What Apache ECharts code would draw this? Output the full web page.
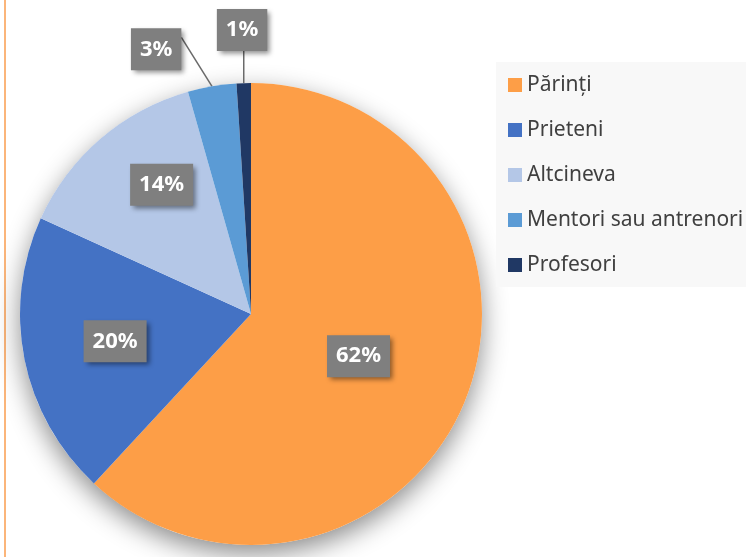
<!DOCTYPE html>
<html>
<head>
<meta charset="utf-8">
<script src="https://cdn.jsdelivr.net/npm/echarts@6/dist/echarts.min.js"></script>
<style>html,body{margin:0;padding:0;background:#fff;}#c{width:746px;height:557px;}</style>
</head>
<body>
<div id="c"></div>
<script>
const categories = ['Părinți', 'Prieteni', 'Altcineva', 'Mentori sau antrenori', 'Profesori'];
const values = [61.9, 19.9, 13.8, 3.4, 1.0];
const colors = ['#fd9e47', '#4472c4', '#b4c7e7', '#5b9bd5', '#203864'];
const labelRadius = [0.5, 0.6, 0.68, 1.217, 1.23];
const labelTurn = [0, 0, 6, -10, 0];

const CX = 251, CY = 314, R = 231;
const total = values.reduce((a, b) => a + b, 0);
function midAngle(i) {
  let s = 0;
  for (let k = 0; k < i; k++) s += values[k];
  return ((s + values[i] / 2) / total) * 360;
}
function pt(deg, r) {
  const a = deg * Math.PI / 180;
  return [CX + r * Math.sin(a), CY - r * Math.cos(a)];
}

const chart = echarts.init(document.getElementById('c'));
const labelBase = {
  formatter: p => Math.round(p.value) + '%',
  color: '#fff', fontWeight: 'bold', fontSize: 22, lineHeight: 22,
  fontFamily: 'Noto Sans',
  backgroundColor: '#7f7f7f', padding: [10, 9],
  shadowColor: 'rgba(0,0,0,0.45)', shadowBlur: 5, shadowOffsetX: 3, shadowOffsetY: 3
};

chart.setOption({
  animation: false,
  backgroundColor: '#fff',
  graphic: [{ type: 'rect', shape: { x: 4, y: 0, width: 2, height: 557 }, style: { fill: '#fbb57a' }, silent: true }],
  legend: {
    data: categories,
    orient: 'vertical',
    left: 496, top: 62,
    padding: [12.5, 12, 11.5, 12],
    backgroundColor: '#f8f8f8',
    itemWidth: 14, itemHeight: 14, itemGap: 24,
    icon: 'rect',
    textStyle: { fontFamily: 'Noto Sans', fontSize: 21, lineHeight: 21, color: '#404040' }
  },
  series: [
    {
      type: 'pie', silent: true, center: [CX, CY], radius: R, z: 1,
      label: { show: false }, labelLine: { show: false },
      data: [{ value: 1, name: '_bg', itemStyle: { color: '#fff', shadowBlur: 26, shadowColor: 'rgba(0,0,0,0.45)', shadowOffsetY: 9 } }]
    },
    {
      type: 'pie', center: [CX, CY], radius: R, startAngle: 90, clockwise: true, z: 2,
      emphasis: { disabled: true },
      data: categories.map((n, i) => ({
        name: n, value: values[i],
        itemStyle: { color: colors[i] },
        label: Object.assign({}, labelBase, { position: labelRadius[i] > 1 ? 'outside' : 'inside' }),
        labelLine: { show: labelRadius[i] > 1, lineStyle: { color: '#6a6a6a', width: 1.5 } }
      })),
      labelLayout: function (p) {
        const i = p.dataIndex;
        const m = midAngle(i);
        const c = pt(m + labelTurn[i], labelRadius[i] * R);
        const res = { x: c[0], y: c[1], align: 'center', verticalAlign: 'middle' };
        if (labelRadius[i] > 1) {
          const e = pt(m, R);
          const w = p.labelRect.width, h = p.labelRect.height;
          let end;
          if (Math.abs(e[0] - c[0]) < w / 2) end = [e[0], c[1] + h / 2];
          else end = [c[0] + w / 2, c[1] - h / 2 + 9];
          res.labelLinePoints = [e, end, end];
        }
        return res;
      }
    }
  ]
});
</script>
</body>
</html>
